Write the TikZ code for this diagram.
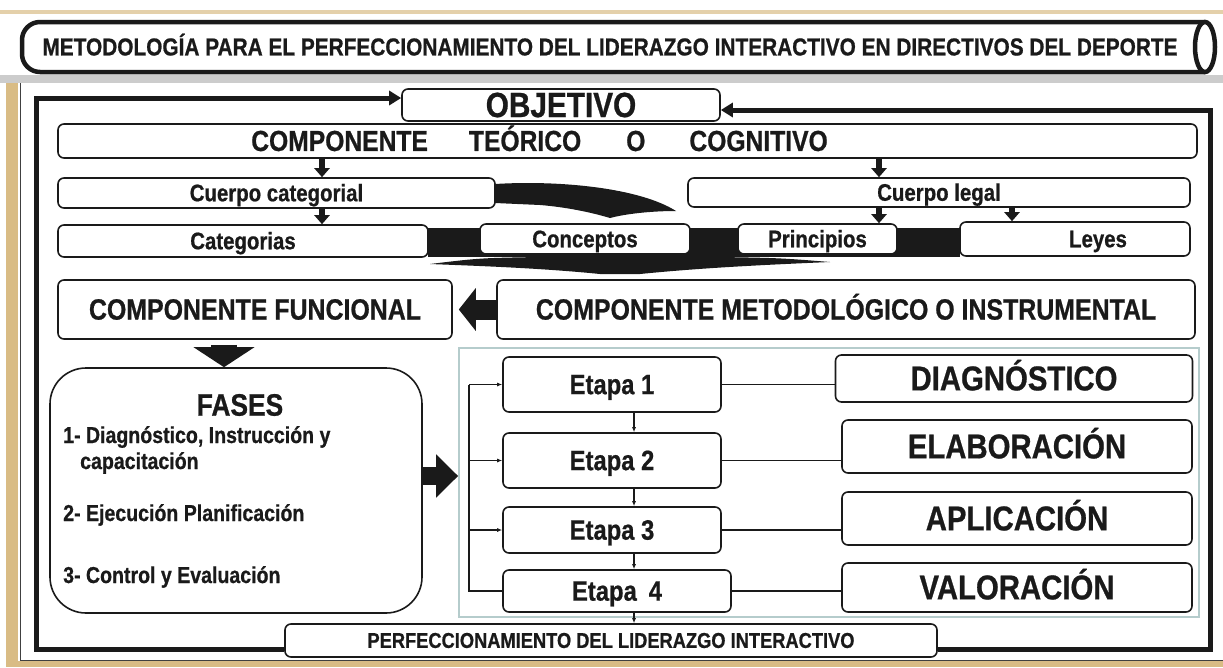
\documentclass[tikz,border=0pt]{standalone}
\usepackage{fontspec}
\setmainfont{Liberation Sans}[FakeStretch=0.85, BoldFeatures={FakeBold=0.7}]
\usetikzlibrary{arrows.meta}
\newcommand\fsz[1]{\fontsize{#1}{#1}\selectfont\bfseries}
\newcommand\lbl[2]{\fontsize{#1}{#1}\selectfont\bfseries\vphantom{X}\smash{#2}}
\definecolor{tanc}{HTML}{D9BC85}
\definecolor{panelc}{HTML}{B5CCCC}
\definecolor{ink}{HTML}{1A1A1A}
\begin{document}
\begin{tikzpicture}[x=1pt,y=-1pt,
  box/.style={draw=ink, line width=1.6pt, rounded corners=6pt, fill=white, inner sep=0pt, align=center, text=ink},
  sarr/.style={line width=5.5pt, -{Triangle[width=15pt,length=9pt]}, ink},
  thinln/.style={line width=1.4pt, ink},
  tarr/.style={line width=1.2pt, ink, -{Latex[length=5pt,width=4pt]}},
  frame/.style={line width=5pt, ink, -{Triangle[width=14pt,length=12pt]}},
  txt/.style={inner sep=0pt, text=ink},
]
\useasboundingbox (0,0) rectangle (1223,667);
% background
\fill[white] (0,0) rectangle (1223,667);
\fill[tanc!70] (0,10) rectangle (1223,14);
\fill[gray!40] (0,75) rectangle (1223,83);
\fill[tanc] (6,83) rectangle (18,667);
\fill[tanc] (6,661) rectangle (1223,667);
\draw[gray!50!black, line width=1pt] (20,83) -- (20,660) -- (1223,660);

% title banner
\draw[line width=4.5pt, ink, rounded corners=18pt, fill=white] (1205,22) -- (22,22) -- (22,72) -- (1205,72);
\draw[line width=4.5pt, ink, fill=white] (1205,47) ellipse (10 and 25);
\node[txt] (title) at (610,47) {\lbl{24.5}{METODOLOGÍA PARA EL PERFECCIONAMIENTO DEL LIDERAZGO INTERACTIVO EN DIRECTIVOS DEL DEPORTE}};

% black band and swooshes behind the row of concepts
\fill[ink] (428,228) rectangle (960,257);
\fill[ink] (430,264) .. controls (480,258) .. (540,257) -- (720,257) .. controls (780,258) .. (830,262)
   .. controls (760,265) and (700,268) .. (640,274) -- (600,274) .. controls (540,268) and (480,266) .. (430,264) -- cycle;
\fill[ink] (495,184) .. controls (560,180) and (640,188) .. (676,211) .. controls (650,211) and (625,214) .. (610,218)
   .. controls (590,212) and (565,207) .. (540,205) -- (495,203) -- cycle;

% panel
\node[draw=panelc, line width=1.8pt, fill=white, minimum width=740pt, minimum height=269pt, inner sep=0pt] (panel) at (829,482.5) {};

% boxes
\node[box, minimum width=318pt, minimum height=32pt] (obj) at (561,105) {\lbl{35}{OBJETIVO}};
\node[box, minimum width=1139pt, minimum height=34pt] (tc) at (627.5,141) {\lbl{29}{COMPONENTE\hspace{41pt}TEÓRICO\hspace{45pt}O\hspace{44pt}COGNITIVO\hspace*{176pt}}};
\node[box, minimum width=437pt, minimum height=30pt] (cc) at (276.5,193) {\lbl{24}{Cuerpo categorial}};
\node[box, minimum width=502pt, minimum height=29pt] (cl) at (939,192.5) {\lbl{24}{Cuerpo legal}};
\node[box, minimum width=370pt, minimum height=32pt] (cat) at (243,241) {\lbl{24}{Categorias}};
\node[box, minimum width=210pt, minimum height=30pt] (con) at (585,239) {\lbl{24}{Conceptos}};
\node[box, minimum width=159pt, minimum height=30pt] (pri) at (817.5,239) {\lbl{24}{Principios}};
\node[box, minimum width=230pt, minimum height=34pt] (ley) at (1075,239) {\lbl{24}{\hspace*{46pt}Leyes}};
\node[box, minimum width=394pt, minimum height=59pt] (cf) at (255,309.5) {\lbl{29.3}{COMPONENTE FUNCIONAL}};
\node[box, minimum width=698pt, minimum height=59pt] (cm) at (846,309.5) {\lbl{29.3}{COMPONENTE METODOLÓGICO O INSTRUMENTAL}};
\node[box, rounded corners=36pt, minimum width=372pt, minimum height=245pt] (fases) at (236,490.5) {};
\node[txt] (fh) at (240,405) {\lbl{31}{FASES}};
\node[txt, anchor=base west] (f1) at (63,443) {\fsz{23}1- Diagnóstico, Instrucción y};
\node[txt, anchor=base west] (f2) at (80,469) {\fsz{23}capacitación};
\node[txt, anchor=base west] (f3) at (63,521) {\fsz{23}2- Ejecución Planificación};
\node[txt, anchor=base west] (f4) at (63,583) {\fsz{23}3- Control y Evaluación};

\node[box, minimum width=218pt, minimum height=55pt] (e1) at (612,384.5) {\lbl{28}{Etapa 1}};
\node[box, minimum width=218pt, minimum height=55pt] (e2) at (612,460.5) {\lbl{28}{Etapa 2}};
\node[box, minimum width=218pt, minimum height=46pt] (e3) at (612,530) {\lbl{28}{Etapa 3}};
\node[box, minimum width=228pt, minimum height=42pt] (e4) at (617,591) {\lbl{28}{Etapa\hspace{12pt}4}};

\node[box, minimum width=357pt, minimum height=47pt] (diag) at (1014,378.5) {\lbl{34.5}{DIAGNÓSTICO}};
\node[box, minimum width=350pt, minimum height=53pt] (elab) at (1017,446.5) {\lbl{34.5}{ELABORACIÓN}};
\node[box, minimum width=350pt, minimum height=53pt] (apl) at (1017,518.5) {\lbl{34.5}{APLICACIÓN}};
\node[box, minimum width=350pt, minimum height=49pt] (val) at (1017,587.5) {\lbl{34.5}{VALORACIÓN}};

\node[box, minimum width=652pt, minimum height=33pt] (perf) at (611,640.5) {\lbl{21.5}{PERFECCIONAMIENTO DEL LIDERAZGO INTERACTIVO}};

% loop frame back to objective
\coordinate (fl) at (36,98);
\coordinate (fr) at (1210,110);
\draw[frame] ([yshift=-9pt]perf.west) -| (fl) -- ([yshift=7pt]obj.west);
\draw[frame] ([yshift=-9pt]perf.east) -| (fr) -- ([yshift=-5pt]obj.east);

% small down arrows
\coordinate (xa) at (322,0);
\coordinate (xb) at (879,0);
\coordinate (xc) at (1012,0);
\draw[sarr] (tc.south -| xa) -- (cc.north -| xa);
\draw[sarr] (cc.south -| xa) -- (cat.north -| xa);
\draw[sarr] (tc.south -| xb) -- (cl.north -| xb);
\draw[sarr] (cl.south -| xb) -- (pri.north -| xb);
\draw[sarr] (cl.south -| xc) -- (ley.north -| xc);

% block arrows
\coordinate (xd) at (224,0);
\coordinate (ya) at (0,476);
\draw[ink, line width=20pt, -{Triangle[width=42pt,length=17pt]}, shorten >=6pt] (cm.west) -- (cf.east);
\draw[ink, line width=26pt, -{Triangle[width=60pt,length=20pt]}, shorten <=5pt] (cf.south -| xd) -- (fases.north -| xd);
\draw[ink, line width=18pt, -{Triangle[width=42pt,length=22pt]}] (fases.east |- ya) -- (panel.west |- ya);

% etapa connectors
\coordinate (bus) at (469,0);
\draw[thinln] (e4.west) -- (e4.west -| bus) -- (e1.west -| bus);
\draw[tarr] (e1.west -| bus) -- (e1.west);
\draw[tarr] (e2.west -| bus) -- (e2.west);
\draw[tarr] (e3.west -| bus) -- (e3.west);
\draw[thinln] (e1.east) -- (e1.east -| diag.west);
\draw[thinln] (e2.east) -- (e2.east -| elab.west);
\draw[thinln] (e3.east) -- (e3.east -| apl.west);
\draw[thinln] (e4.east) -- (e4.east -| val.west);
\coordinate (xv) at (634,0);
\draw[tarr] (e1.south -| xv) -- (e2.north -| xv);
\draw[tarr] (e2.south -| xv) -- (e3.north -| xv);
\draw[tarr] (e3.south -| xv) -- (e4.north -| xv);
\draw[tarr] (e4.south -| xv) -- (perf.north -| xv);
\end{tikzpicture}
\end{document}
